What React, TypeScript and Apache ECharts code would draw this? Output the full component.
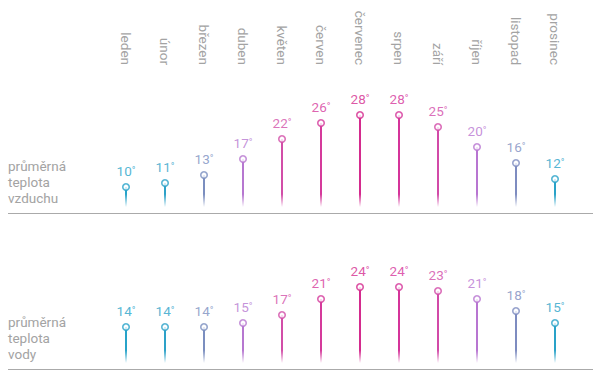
import React, { useEffect, useRef } from "react";
import * as echarts from "echarts";

const months = ["leden", "únor", "březen", "duben", "květen", "červen", "červenec", "srpen", "září", "říjen", "listopad", "prosinec"];
const airTemps = [10, 11, 13, 17, 22, 26, 28, 28, 25, 20, 16, 12];
const waterTemps = [14, 14, 14, 15, 17, 21, 24, 24, 23, 21, 18, 15];
const monthColors = ["#27a3c9", "#2da1c8", "#7b8ebf", "#b677d0", "#d24ea8", "#d53a9b", "#d42b8e", "#d5349a", "#d24aa8", "#b875d1", "#7e8cc0", "#29a2c8"];
const rowLabels = ["průměrná\nteplota\nvzduchu", "průměrná\nteplota\nvody"];
const axisMin = 5;
const axisMax = 30;

const FONT = "Roboto";
const GRAY = "#a3a3a3";

function hexToRgba(hex: string, a: number) {
  const n = parseInt(hex.slice(1), 16);
  return `rgba(${(n >> 16) & 255},${(n >> 8) & 255},${n & 255},${a})`;
}

function stemItems(values: number[]) {
  return values.map((v, i) => {
    const fade = Math.min(0.9, 3.2 / (v - axisMin));
    return {
      value: v,
      itemStyle: {
        color: new echarts.graphic.LinearGradient(0, 0, 0, 1, [
          { offset: 0, color: monthColors[i] },
          { offset: 1 - fade, color: monthColors[i] },
          { offset: 1, color: hexToRgba(monthColors[i], 0) },
        ]),
      },
    };
  });
}

function dotItems(values: number[]) {
  return values.map((v, i) => ({
    value: v,
    itemStyle: { color: "#fff", borderColor: monthColors[i], borderWidth: 1.6 },
    label: { rich: { v: { color: monthColors[i] }, d: { color: monthColors[i] } } },
  }));
}

export default function App() {
  const ref = useRef<HTMLDivElement>(null);
  useEffect(() => {
    if (!ref.current) return;
    const chart = echarts.init(ref.current, null, { renderer: "svg" });
    const grids = [
      { left: 106.5, right: 25.5, top: 107, height: 100 },
      { left: 106.5, right: 25.5, top: 263, height: 100 },
    ];
    const seriesFor = (vals: number[], idx: number) => [
      {
        type: "bar",
        xAxisIndex: idx,
        yAxisIndex: idx,
        barWidth: 2,
        data: stemItems(vals),
        z: 2,
      },
      {
        type: "scatter",
        xAxisIndex: idx,
        yAxisIndex: idx,
        symbol: "circle",
        symbolSize: 6.5,
        data: dotItems(vals),
        z: 3,
        label: {
          show: true,
          position: "top",
          distance: 4,
          formatter: (p: any) => `{v|${p.value}}{d|°}`,
          rich: {
            v: { fontSize: 13.5, fontFamily: FONT, lineHeight: 16 },
            d: { fontSize: 10, fontFamily: FONT, verticalAlign: "middle", lineHeight: 12 },
          },
        },
      },
    ];
    chart.setOption({
      animation: false,
      grid: grids,
      xAxis: [
        {
          type: "category",
          gridIndex: 0,
          data: months,
          position: "top",
          offset: 34,
          axisLine: { show: false },
          axisTick: { show: false },
          axisLabel: { rotate: 90, color: GRAY, fontSize: 13.5, fontFamily: FONT, margin: 8 },
        },
        {
          type: "category",
          gridIndex: 1,
          data: months,
          axisLine: { show: false },
          axisTick: { show: false },
          axisLabel: { show: false },
        },
      ],
      yAxis: [0, 1].map((g) => ({
        type: "value",
        gridIndex: g,
        min: axisMin,
        max: axisMax,
        show: false,
        splitLine: { show: false },
      })),
      series: [...seriesFor(airTemps, 0), ...seriesFor(waterTemps, 1)],
      graphic: [
        { type: "line", shape: { x1: 8, y1: 213.5, x2: 593, y2: 213.5 }, style: { stroke: "#aaaaaa", lineWidth: 1 } },
        { type: "line", shape: { x1: 8, y1: 369.5, x2: 593, y2: 369.5 }, style: { stroke: "#aaaaaa", lineWidth: 1 } },
        {
          type: "text",
          x: 8,
          y: 158,
          style: { text: rowLabels[0], fill: GRAY, fontSize: 13.5, fontFamily: FONT, lineHeight: 16, align: "left", verticalAlign: "top" },
        },
        {
          type: "text",
          x: 8,
          y: 314,
          style: { text: rowLabels[1], fill: GRAY, fontSize: 13.5, fontFamily: FONT, lineHeight: 16, align: "left", verticalAlign: "top" },
        },
      ],
    });
    return () => chart.dispose();
  }, []);
  return <div ref={ref} style={{ width: 600, height: 378, position: "absolute", left: 0, top: 0 }} />;
}
